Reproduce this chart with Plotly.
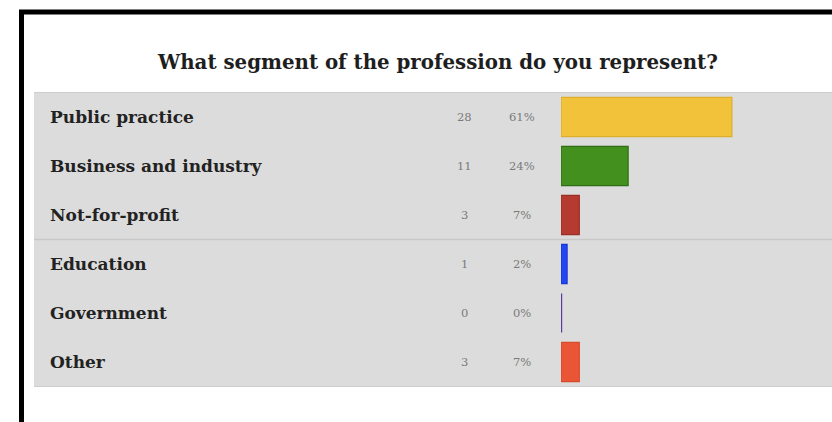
import plotly.graph_objects as go

categories = ["Public practice", "Business and industry", "Not-for-profit",
              "Education", "Government", "Other"]
counts = [28, 11, 3, 1, 0, 3]
percents = ["61%", "24%", "7%", "2%", "0%", "7%"]
colors = ["#f2c23b", "#43901f", "#b53b31", "#2346f5", "#5b3c9c", "#ea5536"]
borders = ["#dcae2c", "#2f6e15", "#9a2f27", "#1a36d0", "#5b3c9c", "#d84a2c"]
border_widths = [1.2, 1.2, 1.2, 1.2, 2.4, 1.2]
title_text = "What segment of the profession do you represent?"

W, H = 832, 422
def px(x):
    return x / W
def py(y):
    return 1 - y / H

fig = go.Figure()
fig.add_trace(go.Bar(
    y=categories, x=counts, orientation="h",
    marker=dict(color=colors, line=dict(color=borders, width=border_widths)),
    width=0.8, hoverinfo="skip", showlegend=False,
))

panel_top, panel_bot = 92.5, 386.5
shapes = [
    dict(type="rect", xref="paper", yref="paper", x0=px(34), x1=1.0,
         y0=py(panel_bot), y1=py(panel_top), fillcolor="#dcdcdc",
         line=dict(width=0), layer="below"),
    dict(type="line", xref="paper", yref="paper", x0=px(34), x1=1.0,
         y0=py(panel_top), y1=py(panel_top), line=dict(color="#cdcdcd", width=1.2)),
    dict(type="line", xref="paper", yref="paper", x0=px(34), x1=1.0,
         y0=py(panel_bot), y1=py(panel_bot), line=dict(color="#cdcdcd", width=1.2)),
    dict(type="line", xref="paper", yref="y", x0=px(34), x1=1.0,
         y0=2.5, y1=2.5, line=dict(color="#c8c8c8", width=1.5)),
    # black frame
    dict(type="line", xref="paper", yref="paper", x0=px(19), x1=1.0,
         y0=py(12), y1=py(12), line=dict(color="#000000", width=5)),
    dict(type="line", xref="paper", yref="paper", x0=px(21.5), x1=px(21.5),
         y0=py(10), y1=0, line=dict(color="#000000", width=5)),
]

annotations = [dict(text="<b>" + title_text + "</b>", xref="paper", yref="paper", x=px(437), y=py(62),
                    xanchor="center", yanchor="middle", showarrow=False,
                    font=dict(family="DejaVu Serif", size=19.8, color="#1e1e1e"))]
for cat, c, p in zip(categories, counts, percents):
    annotations.append(dict(text="<b>" + cat + "</b>", xref="paper", yref="y", x=px(48), y=cat,
                            xanchor="left", yanchor="middle", showarrow=False,
                            font=dict(family="DejaVu Serif", size=17, color="#222222")))
    annotations.append(dict(text=str(c), xref="paper", yref="y", x=px(464), y=cat,
                            xanchor="center", yanchor="middle", showarrow=False,
                            font=dict(family="DejaVu Serif", size=11.5, color="#7a7a7a")))
    annotations.append(dict(text=p, xref="paper", yref="y", x=px(522), y=cat,
                            xanchor="center", yanchor="middle", showarrow=False,
                            font=dict(family="DejaVu Serif", size=11.5, color="#7a7a7a")))

fig.update_layout(
    width=W, height=H, margin=dict(l=0, r=0, t=0, b=0),
    paper_bgcolor="#ffffff", plot_bgcolor="rgba(0,0,0,0)",
    shapes=shapes, annotations=annotations, bargap=0.2,
    xaxis=dict(domain=[px(561), 1.0], range=[0, 44.4], visible=False, fixedrange=True),
    yaxis=dict(domain=[py(panel_bot), py(panel_top)], range=[5.5, -0.5],
               categoryorder="array", categoryarray=categories,
               visible=False, fixedrange=True),
)
fig.write_html("out.html", config={"displayModeBar": False},
               post_script="document.body.style.margin='0';document.body.style.overflow='hidden';")
